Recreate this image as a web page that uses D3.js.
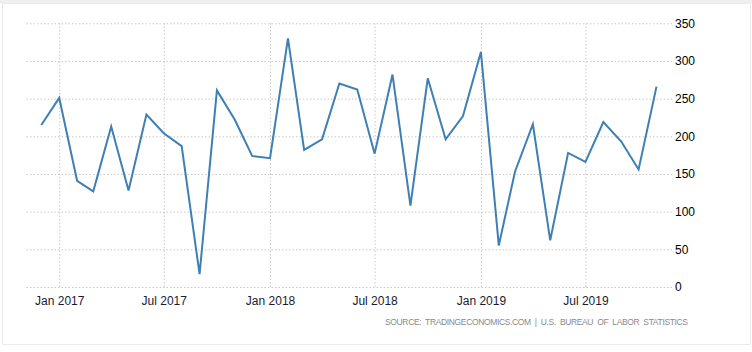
<!DOCTYPE html>
<html lang="en">
<head>
<meta charset="UTF-8">
<title>Non Farm Payrolls</title>
<script src="https://d3js.org/d3.v7.min.js"></script>
<style>
  body { margin: 0; background: #fff; }
  svg { display: block; }
</style>
</head>
<body>
<svg id="chart" width="752" height="352"></svg>
<script>
    // monthly values, Dec 2016 .. Nov 2019
    const months = ["2016-12","2017-01","2017-02","2017-03","2017-04","2017-05","2017-06","2017-07","2017-08","2017-09","2017-10","2017-11",
                    "2017-12","2018-01","2018-02","2018-03","2018-04","2018-05","2018-06","2018-07","2018-08","2018-09","2018-10","2018-11",
                    "2018-12","2019-01","2019-02","2019-03","2019-04","2019-05","2019-06","2019-07","2019-08","2019-09","2019-10","2019-11"];
    const values = [215, 251, 141, 127, 213, 128, 229, 204, 187, 17, 261, 222,
                    174, 171, 330, 182, 196, 270, 262, 177, 282, 108, 277, 196,
                    227, 312, 55, 153, 216, 62, 178, 166, 219, 193, 156, 266];
    const xTicks = ["2017-01","2017-07","2018-01","2018-07","2019-01","2019-07"];
    const yTicks = [0, 50, 100, 150, 200, 250, 300, 350];
    const sourceText = "SOURCE:  TRADINGECONOMICS.COM  |  U.S.  BUREAU  OF  LABOR  STATISTICS";

    const parse = d3.timeParse("%Y-%m");
    const data = months.map((m, i) => ({ date: parse(m), value: values[i] }));

    const svg = d3.select("#chart");

    // panel frame
    svg.append("rect").attr("x", 0).attr("y", 0).attr("width", 752).attr("height", 3.5).attr("fill", "#efefef");
    svg.append("path")
        .attr("d", "M2.5,3.5 V344.5 H750.5 V3.5 H2.5")
        .attr("fill", "none").attr("stroke", "#ebebeb").attr("stroke-width", 1);

    const x = d3.scaleTime()
        .domain([parse("2016-12"), parse("2019-11")])
        .range([41.3, 656.5]);
    const y = d3.scaleLinear().domain([0, 350]).range([287, 23.3]);

    const gridLeft = 25, gridRight = 672;

    // horizontal grid + right axis labels
    const yAxis = d3.axisRight(y)
        .tickValues(yTicks)
        .tickSize(-(gridRight - gridLeft))
        .tickPadding(3);
    const gy = svg.append("g").attr("transform", `translate(${gridRight},0)`).call(yAxis);
    gy.select(".domain").remove();
    gy.selectAll(".tick line").attr("stroke", "#c8c8c8").attr("stroke-dasharray", "1.5,2");
    gy.selectAll(".tick text")
        .attr("font-family", "Liberation Sans, Arial, sans-serif")
        .attr("font-size", 12).attr("fill", "#000");

    // vertical grid + bottom labels
    const xAxis = d3.axisBottom(x)
        .tickValues(xTicks.map(parse))
        .tickFormat(d3.timeFormat("%b %Y"))
        .tickSize(-(287 - 23.3))
        .tickPadding(9);
    const gx = svg.append("g").attr("transform", "translate(0,287)").call(xAxis);
    gx.select(".domain").remove();
    gx.selectAll(".tick line").attr("stroke", "#c8c8c8").attr("stroke-dasharray", "1.5,2");
    gx.selectAll(".tick text")
        .attr("font-family", "Liberation Sans, Arial, sans-serif")
        .attr("font-size", 12).attr("fill", "#1a1a33");

    // series line
    const line = d3.line().x(d => x(d.date)).y(d => y(d.value));
    svg.append("path")
        .datum(data)
        .attr("d", line)
        .attr("fill", "none")
        .attr("stroke", "#3e7fb4")
        .attr("stroke-width", 2)
        .attr("stroke-linejoin", "miter");

    // source note
    svg.append("text")
        .attr("x", 385).attr("y", 325)
        .attr("textLength", 303).attr("lengthAdjust", "spacing")
        .attr("font-family", "Liberation Sans, Arial, sans-serif")
        .attr("font-size", 8.5)
        .attr("fill", "#8a8a8a")
        .attr("xml:space", "preserve")
        .style("white-space", "pre")
        .text(sourceText);
</script>
</body>
</html>
